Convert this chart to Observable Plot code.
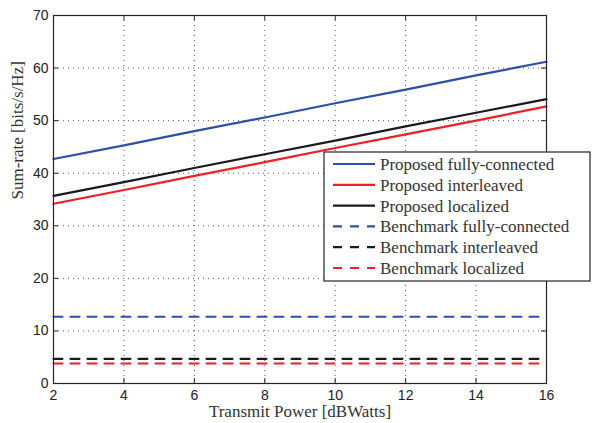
<!DOCTYPE html>
<html>
<head>
<meta charset="utf-8">
<script src="https://cdn.jsdelivr.net/npm/d3@7"></script>
<script src="https://cdn.jsdelivr.net/npm/@observablehq/plot@0.6"></script>
<style>
  html, body { margin: 0; padding: 0; background: #fff; }
  #chart svg { display: block; }
</style>
</head>
<body>
<div id="chart"></div>
<script>
// ---- data ----
const power = [2, 4, 6, 8, 10, 12, 14, 16];
const proposedFully = [42.7, 45.3, 48.0, 50.6, 53.3, 55.9, 58.6, 61.2];
const proposedInterleaved = [34.2, 36.8, 39.5, 42.1, 44.8, 47.4, 50.0, 52.7];
const proposedLocalized = [35.7, 38.3, 41.0, 43.6, 46.2, 48.9, 51.5, 54.1];
const benchmarkFully = [12.7, 12.7, 12.7, 12.7, 12.7, 12.7, 12.7, 12.7];
const benchmarkInterleaved = [4.7, 4.7, 4.7, 4.7, 4.7, 4.7, 4.7, 4.7];
const benchmarkLocalized = [3.8, 3.8, 3.8, 3.8, 3.8, 3.8, 3.8, 3.8];

const seriesNames = [
  "Proposed fully-connected",
  "Proposed interleaved",
  "Proposed localized",
  "Benchmark fully-connected",
  "Benchmark interleaved",
  "Benchmark localized"
];
const seriesValues = [proposedFully, proposedInterleaved, proposedLocalized,
                      benchmarkFully, benchmarkInterleaved, benchmarkLocalized];
const seriesColors = ["#2f4fa6", "#ee1f25", "#1a1a1a", "#2f4fa6", "#1a1a1a", "#ee1f25"];
const seriesDashed = [false, false, false, true, true, true];

const xTicks = [2, 4, 6, 8, 10, 12, 14, 16];
const yTicks = [0, 10, 20, 30, 40, 50, 60, 70];
const xLabel = "Transmit Power [dBWatts]";
const yLabel = "Sum-rate [bits/s/Hz]";

// ---- build table ----
const rows = [];
seriesNames.forEach((name, i) => {
  power.forEach((p, j) => rows.push({series: name, x: p, y: seriesValues[i][j], idx: i}));
});

const W = 592, H = 423;
const mL = 53, mR = 46, mT = 15, mB = 40;
const plotW = W - mL - mR, plotH = H - mT - mB;
const serif = "'Liberation Serif', 'DejaVu Serif', serif";
const sans = "'Liberation Sans', Arial, sans-serif";
const dash = "9,8";

const marks = [
  Plot.gridX(xTicks.slice(1, -1), {stroke: "#555", strokeOpacity: 1, strokeDasharray: "1,4"}),
  Plot.gridY(yTicks.slice(1, -1), {stroke: "#555", strokeOpacity: 1, strokeDasharray: "1,4"}),
  // inward ticks
  Plot.tickX(xTicks, {x: d => d, stroke: "#222", insetTop: plotH - 5}),
  Plot.tickX(xTicks, {x: d => d, stroke: "#222", insetBottom: plotH - 5}),
  Plot.tickY(yTicks, {y: d => d, stroke: "#222", insetRight: plotW - 5}),
  Plot.tickY(yTicks, {y: d => d, stroke: "#222", insetLeft: plotW - 5}),
];
seriesNames.forEach((name, i) => {
  marks.push(Plot.line(rows.filter(r => r.idx === i), {
    x: "x", y: "y", stroke: seriesColors[i], strokeWidth: 2.2,
    strokeDasharray: seriesDashed[i] ? dash : null
  }));
});
marks.push(
  Plot.frame({stroke: "#222", strokeWidth: 1.2}),
  Plot.axisX(xTicks, {tickSize: 0, tickPadding: 7, fontSize: 14, fontFamily: sans, fill: "#222", label: null}),
  Plot.axisY(yTicks, {tickSize: 0, tickPadding: 5, fontSize: 14, fontFamily: sans, fill: "#222", label: null}),
  Plot.text([xLabel], {frameAnchor: "bottom", lineAnchor: "middle", dy: 28, fontSize: 17, fontFamily: serif, fill: "#333"}),
  Plot.text([yLabel], {frameAnchor: "left", lineAnchor: "middle", rotate: -90, dx: -36, fontSize: 17, fontFamily: serif, fill: "#333"})
);

const chart = Plot.plot({
  width: W, height: H,
  marginLeft: mL, marginRight: mR, marginTop: mT, marginBottom: mB,
  x: {domain: [2, 16], axis: null},
  y: {domain: [0, 70], axis: null},
  style: {background: "#fff", overflow: "visible"},
  marks
});
document.getElementById("chart").appendChild(chart);

// ---- legend ----
const svg = d3.select(chart);
const lg = svg.append("g");
const lx = 324, ly = 152, lw = 266, lh = 129;
lg.append("rect").attr("x", lx).attr("y", ly).attr("width", lw).attr("height", lh)
  .attr("fill", "#fff").attr("stroke", "#222").attr("stroke-width", 1.2);
seriesNames.forEach((name, i) => {
  const cy = ly + 12 + i * 20.8;
  lg.append("line").attr("x1", lx + 9).attr("x2", lx + 51).attr("y1", cy).attr("y2", cy)
    .attr("stroke", seriesColors[i]).attr("stroke-width", 2.2)
    .attr("stroke-dasharray", seriesDashed[i] ? dash : null);
  lg.append("text").attr("x", lx + 56).attr("y", cy).attr("dy", "0.35em")
    .attr("text-anchor", "start")
    .attr("font-family", serif).attr("font-size", 17).attr("fill", "#333").text(name);
});
</script>
</body>
</html>
